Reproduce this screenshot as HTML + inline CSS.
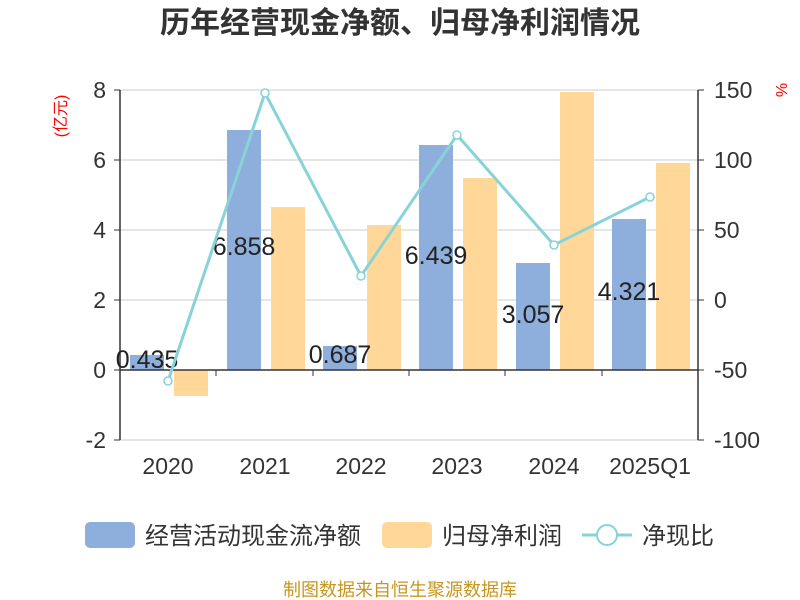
<!DOCTYPE html>
<html><head><meta charset="utf-8"><style>
html,body{margin:0;padding:0;background:#fff;}
svg{display:block;font-family:"Liberation Sans","Noto Sans CJK SC",sans-serif;}
</style></head><body>
<svg width="800" height="600" viewBox="0 0 800 600">
<text x="400" y="33" text-anchor="middle" font-size="30" font-weight="bold" fill="#333">历年经营现金净额、归母净利润情况</text>
<g stroke="#ccc" stroke-width="1">
<line x1="120" y1="90" x2="698" y2="90"/><line x1="120" y1="160" x2="698" y2="160"/>
<line x1="120" y1="230" x2="698" y2="230"/><line x1="120" y1="300" x2="698" y2="300"/>
<line x1="120" y1="440" x2="698" y2="440"/>
</g>
<g fill="#8eaedb">
<rect x="130" y="355" width="34" height="15"/>
<rect x="227" y="130" width="34" height="240"/>
<rect x="323" y="346" width="34" height="24"/>
<rect x="419" y="145" width="34" height="225"/>
<rect x="516" y="263" width="34" height="107"/>
<rect x="612" y="219" width="34" height="151"/>
</g>
<g fill="#ffd899">
<rect x="174" y="370" width="34" height="26"/>
<rect x="271" y="207" width="34" height="163"/>
<rect x="367" y="225" width="34" height="145"/>
<rect x="463" y="178" width="34" height="192"/>
<rect x="560" y="92" width="34" height="278"/>
<rect x="656" y="163" width="34" height="207"/>
</g>
<g stroke="#333" stroke-width="1.5">
<line x1="120" y1="90" x2="120" y2="440"/>
<line x1="698" y1="90" x2="698" y2="440"/>
<line x1="120" y1="370" x2="698" y2="370"/>
</g>
<g stroke="#333" stroke-width="1">
<line x1="114" y1="90" x2="120" y2="90"/><line x1="114" y1="160" x2="120" y2="160"/><line x1="114" y1="230" x2="120" y2="230"/><line x1="114" y1="300" x2="120" y2="300"/><line x1="114" y1="370" x2="120" y2="370"/><line x1="114" y1="440" x2="120" y2="440"/>
<line x1="698" y1="90" x2="704" y2="90"/><line x1="698" y1="160" x2="704" y2="160"/><line x1="698" y1="230" x2="704" y2="230"/><line x1="698" y1="300" x2="704" y2="300"/><line x1="698" y1="370" x2="704" y2="370"/><line x1="698" y1="440" x2="704" y2="440"/>
<line x1="216" y1="370" x2="216" y2="376"/><line x1="313" y1="370" x2="313" y2="376"/><line x1="409" y1="370" x2="409" y2="376"/><line x1="505" y1="370" x2="505" y2="376"/><line x1="602" y1="370" x2="602" y2="376"/>
</g>
<g font-size="23" fill="#333" text-anchor="end">
<text x="106" y="98">8</text><text x="106" y="168">6</text><text x="106" y="238">4</text><text x="106" y="308">2</text><text x="106" y="378">0</text><text x="106" y="448">-2</text>
</g>
<g font-size="23" fill="#333" text-anchor="start">
<text x="714" y="98">150</text><text x="714" y="168">100</text><text x="714" y="238">50</text><text x="714" y="308">0</text><text x="714" y="378">-50</text><text x="714" y="448">-100</text>
</g>
<text x="66" y="116" font-size="16" fill="red" text-anchor="middle" transform="rotate(-90 66 116)">(亿元)</text>
<text x="776" y="90" font-size="16" fill="red" text-anchor="middle" transform="rotate(90 776 90)">%</text>
<g font-size="23" fill="#333" text-anchor="middle">
<text x="168" y="474">2020</text><text x="265" y="474">2021</text><text x="361" y="474">2022</text><text x="457" y="474">2023</text><text x="554" y="474">2024</text><text x="650" y="474">2025Q1</text>
</g>
<g font-size="25" fill="#222" text-anchor="middle">
<text x="147" y="368">0.435</text><text x="244" y="255">6.858</text><text x="340" y="363">0.687</text><text x="436" y="264">6.439</text><text x="533" y="323">3.057</text><text x="629" y="300">4.321</text>
</g>
<polyline points="168,381 265,93 361,276 457,135 554,245 650,197" fill="none" stroke="#87d3d8" stroke-width="3"/>
<g fill="#fff" stroke="#87d3d8" stroke-width="1.5">
<circle cx="168" cy="381" r="4"/><circle cx="265" cy="93" r="4"/><circle cx="361" cy="276" r="4"/><circle cx="457" cy="135" r="4"/><circle cx="554" cy="245" r="4"/><circle cx="650" cy="197" r="4"/>
</g>
<rect x="85" y="522" width="50" height="26" rx="5" fill="#8eaedb"/>
<text x="145" y="544" font-size="24" fill="#333">经营活动现金流净额</text>
<rect x="382" y="522" width="50" height="26" rx="5" fill="#ffd899"/>
<text x="442" y="544" font-size="24" fill="#333">归母净利润</text>
<line x1="582" y1="535" x2="632" y2="535" stroke="#87d3d8" stroke-width="3"/>
<circle cx="607" cy="535" r="10" fill="#fff" stroke="#87d3d8" stroke-width="2"/>
<text x="642" y="544" font-size="24" fill="#333">净现比</text>
<text x="400" y="596" font-size="18" fill="#c8961e" text-anchor="middle">制图数据来自恒生聚源数据库</text>
</svg>
</body></html>
